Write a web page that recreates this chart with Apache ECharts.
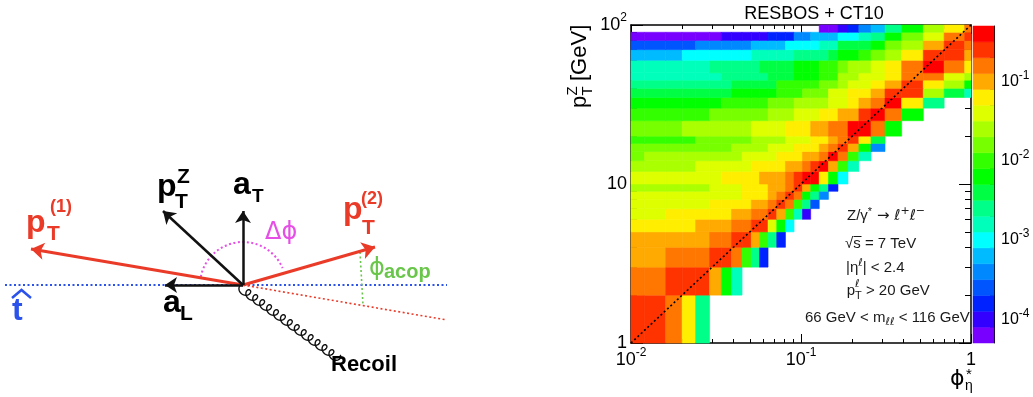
<!DOCTYPE html>
<html><head><meta charset="utf-8">
<script src="https://cdn.jsdelivr.net/npm/echarts@6/dist/echarts.min.js"></script>
<style>html,body{margin:0;padding:0;background:#fff}#c{width:1033px;height:397px}</style>
</head><body><div id="c"></div>
<script>
// ---------- heat-map data ----------
const phiStarEdges = [0.008,0.012,0.016,0.020,0.024,0.029,0.034,0.039,0.045,0.051,0.057,0.064,0.072,0.081,0.091,0.102,0.114,0.128,0.145,0.165,0.189,0.219,0.258,0.312,0.391,0.524,0.695,0.918,1.153];
const ptZEdges = [1,2,3,4,5,6,7,8,9,10,12,14,16,18,20,25,30,35,40,45,50,60,70,80,90,100];
// log10 of the normalised density, one list per pT(Z) bin (bottom to top), one entry per phi* bin
const densityExponent = [
 [-0.6,-0.6,-0.8,-1.2,-2.6],
 [-0.8,-0.8,-0.6,-0.6,-0.6,-1.0,-2.2,-2.8],
 [-1.0,-1.0,-0.8,-0.8,-0.8,-0.6,-0.6,-0.8,-2.0,-2.6,-3.8],
 [-1.0,-1.0,-1.0,-1.0,-1.0,-0.8,-0.8,-0.6,-0.6,-1.0,-2.0,-2.6,-3.8],
 [-1.2,-1.2,-1.2,-1.2,-1.0,-1.0,-1.0,-0.8,-0.8,-0.6,-0.6,-1.4,-2.2,-3.0],
 [-1.4,-1.4,-1.2,-1.2,-1.2,-1.2,-1.2,-1.0,-1.0,-0.8,-0.8,-0.6,-1.0,-2.0,-2.8,-4.0],
 [-1.4,-1.4,-1.4,-1.4,-1.4,-1.2,-1.2,-1.2,-1.2,-1.0,-1.0,-0.8,-0.6,-0.8,-2.0,-2.6,-3.6],
 [-1.4,-1.4,-1.4,-1.4,-1.4,-1.4,-1.4,-1.4,-1.2,-1.2,-1.2,-1.0,-0.8,-0.6,-0.8,-2.2,-2.6,-3.4],
 [-1.6,-1.6,-1.6,-1.6,-1.6,-1.4,-1.4,-1.4,-1.2,-1.2,-1.2,-1.0,-1.0,-0.8,-0.6,-1.0,-2.2,-2.6,-3.8],
 [-1.4,-1.4,-1.4,-1.4,-1.4,-1.4,-1.2,-1.2,-1.2,-1.2,-1.0,-1.0,-1.0,-0.8,-0.6,-0.4,-0.4,-1.2,-2.2,-3.0],
 [-1.6,-1.6,-1.6,-1.6,-1.4,-1.4,-1.4,-1.4,-1.4,-1.2,-1.2,-1.2,-1.2,-1.0,-1.0,-0.8,-0.6,-0.4,-1.0,-2.0,-2.8],
 [-1.8,-1.6,-1.6,-1.6,-1.6,-1.6,-1.6,-1.6,-1.4,-1.4,-1.4,-1.4,-1.2,-1.2,-1.2,-1.0,-1.0,-0.8,-0.4,-0.8,-2.0,-2.8],
 [-1.8,-1.8,-1.8,-1.8,-1.8,-1.8,-1.8,-1.6,-1.6,-1.6,-1.6,-1.4,-1.4,-1.4,-1.2,-1.2,-1.2,-1.0,-0.8,-0.6,-1.0,-2.2,-3.4],
 [-2.0,-2.0,-2.0,-2.0,-1.8,-1.8,-1.8,-1.8,-1.8,-1.6,-1.6,-1.6,-1.6,-1.4,-1.4,-1.4,-1.2,-1.2,-1.0,-0.8,-0.6,-1.2,-2.4],
 [-1.8,-1.8,-1.8,-1.6,-1.6,-1.6,-1.6,-1.6,-1.6,-1.4,-1.4,-1.4,-1.4,-1.2,-1.2,-1.2,-1.0,-1.0,-0.8,-0.8,-0.4,-0.4,-0.8,-2.2],
 [-2.0,-2.0,-2.0,-2.0,-2.0,-1.8,-1.8,-1.8,-1.8,-1.8,-1.8,-1.6,-1.6,-1.6,-1.4,-1.4,-1.4,-1.2,-1.2,-1.0,-1.0,-0.6,-0.4,-0.8,-2.2],
 [-2.2,-2.2,-2.2,-2.2,-2.2,-2.2,-2.0,-2.0,-2.0,-2.0,-2.0,-1.8,-1.8,-1.8,-1.6,-1.6,-1.6,-1.6,-1.4,-1.4,-1.2,-1.0,-0.8,-0.4,-1.2,-2.6],
 [-2.4,-2.4,-2.4,-2.4,-2.4,-2.4,-2.4,-2.2,-2.2,-2.2,-2.2,-2.2,-2.0,-2.0,-2.0,-1.8,-1.8,-1.8,-1.4,-1.4,-1.2,-1.2,-1.0,-0.6,-0.6,-1.6,-2.4,-2.8],
 [-2.6,-2.6,-2.6,-2.6,-2.6,-2.6,-2.6,-2.4,-2.4,-2.4,-2.4,-2.4,-2.0,-2.0,-2.0,-2.0,-2.0,-1.8,-1.8,-1.6,-1.4,-1.4,-1.2,-1.0,-0.6,-1.2,-1.6,-2.2],
 [-2.8,-2.8,-2.8,-2.8,-2.8,-2.8,-2.6,-2.6,-2.6,-2.6,-2.6,-2.4,-2.4,-2.4,-2.2,-2.2,-2.2,-2.0,-2.0,-1.6,-1.6,-1.4,-1.4,-1.2,-0.8,-0.8,-1.4,-1.6],
 [-2.8,-2.8,-2.8,-2.8,-2.8,-2.6,-2.6,-2.6,-2.6,-2.6,-2.4,-2.4,-2.4,-2.4,-2.2,-2.2,-2.2,-2.0,-2.0,-1.8,-1.6,-1.6,-1.4,-1.2,-0.8,-0.4,-0.8,-1.2],
 [-3.2,-3.2,-3.2,-3.0,-3.0,-3.0,-3.0,-3.0,-3.0,-2.8,-2.8,-2.8,-2.8,-2.8,-2.6,-2.6,-2.6,-2.6,-2.4,-2.2,-2.2,-2.0,-1.8,-1.6,-1.2,-0.6,-0.6,-1.0],
 [-3.6,-3.6,-3.6,-3.6,-3.4,-3.4,-3.4,-3.4,-3.4,-3.2,-3.2,-3.2,-3.2,-3.0,-3.0,-3.0,-3.0,-2.8,-2.8,-2.4,-2.4,-2.4,-2.2,-1.8,-1.6,-1.0,-0.6,-0.8],
 [-4.2,-4.2,-4.2,-4.2,-4.2,-4.2,-4.0,-4.0,-4.0,-4.0,-4.0,-3.8,-3.8,-3.8,-3.4,-3.4,-3.2,-3.2,-3.2,-3.0,-3.0,-2.8,-2.6,-2.2,-1.8,-1.4,-0.8,-0.6],
 [null,null,null,null,null,null,null,null,null,null,null,null,null,null,null,null,null,-4.2,-4.2,-4.0,-3.8,-3.4,-3.2,-2.6,-2.2,-1.6,-1.2,-0.8]
];
const diagonalLine = [[0.01, 1], [1, 100]];
const xMajorTicks = [0.01, 0.1, 1];
const xMinorTicks = [0.02,0.03,0.04,0.05,0.06,0.07,0.08,0.09,0.2,0.3,0.4,0.5,0.6,0.7,0.8,0.9];
const yMajorTicks = [1, 10, 100];
const yMinorTicks = [2,3,4,5,6,7,8,9,20,30,40,50,60,70,80,90];
const zMajorTicks = [1e-4, 1e-3, 1e-2, 1e-1];
const zMinorTicks = [6e-5,7e-5,8e-5,9e-5,2e-4,3e-4,4e-4,5e-4,6e-4,7e-4,8e-4,9e-4,2e-3,3e-3,4e-3,5e-3,6e-3,7e-3,8e-3,9e-3,2e-2,3e-2,4e-2,5e-2,6e-2,7e-2,8e-2,9e-2,0.2,0.3,0.4];
const zExponentRange = [-4.3, -0.3];
const zPalette = ['#7700ff','#3300ff','#0022ff','#0055ff','#0088ff','#00bbff','#00ffff','#00ffbb','#00ff88','#00ff44','#00ff00','#33ff00','#77ff00','#aaff00','#ddff00','#ffee00','#ffaa00','#ff7700','#ff3300','#ff0000'];

// ---------- kinematics sketch (origin = lepton-pair vertex, y up) ----------
const leptonArrows = { pT1: [-212, 36], pT2: [132, 38] };
const frameArrows = { pTZ: [-80, 74], aT: [0, 74], aL: [-78, 0] };
const tHatAxis = [[-238, 0], [204, 0]];
const pT1Extension = [[0, 0], [204, -35]];
const acopMarker = [[117, 33], [120, -20]];
const dPhiArc = [[0, 0, 43, 23, 169]];
const recoilLine = [[0, 0, 97, -70]];

// ---------- build ----------
const F = "'Liberation Sans', Arial, Helvetica, sans-serif";
const FD = "'DejaVu Sans', 'Liberation Sans', sans-serif";
const lg = Math.log10;
const RED = '#ea3a28', BLUE = '#2b52ea', MAG = '#e64fe6', GRN = '#69c64a';
const chart = echarts.init(document.getElementById('c'), null, {renderer: 'canvas', width: 1033, height: 397});

const cells = [];
densityExponent.forEach((row, r) => row.forEach((z, c) => {
  if (z !== null && z !== undefined) cells.push([phiStarEdges[c], phiStarEdges[c + 1], ptZEdges[r], ptZEdges[r + 1], z]);
}));
const nBand = zPalette.length;
const bandStep = (zExponentRange[1] - zExponentRange[0]) / nBand;
const bands = zPalette.map((c, i) => [zExponentRange[0] + i * bandStep, zExponentRange[0] + (i + 1) * bandStep, i]);
function zColor(z) {
  let k = Math.floor((z - zExponentRange[0]) / bandStep);
  k = Math.max(0, Math.min(nBand - 1, k));
  return zPalette[k];
}

const PLOT = {left: 631, top: 25, width: 340, height: 318};
const CBAR = {left: 973, top: 26, width: 21, height: 317};
const gridOf = (g) => Object.assign({containLabel: false, outerBoundsMode: 'none', show: false}, g);

const powFmt = (v) => { const e = Math.round(v); if (e === 0) return '{b|1}'; if (e === 1) return '{b|10}'; return '{b|10}{s|' + e + '}'; };
const mainRich = {b: {fontSize: 18, lineHeight: 26, fontFamily: F, color: '#000'}, s: {fontSize: 12, lineHeight: 12, verticalAlign: 'top', fontFamily: F, color: '#000'}};
const cbRich = {b: {fontSize: 16, lineHeight: 24, fontFamily: F, color: '#000'}, s: {fontSize: 12, lineHeight: 12, verticalAlign: 'top', fontFamily: F, color: '#000'}};

function deco(gridIndex, position, ext, ticks, len, line, label) {
  const a = {type: 'value', gridIndex, position, min: ext[0], max: ext[1],
    axisLine: {show: !!line, onZero: false, lineStyle: {color: '#000', width: line || 1}},
    axisTick: {show: true, inside: true, length: len, customValues: ticks.map(lg), lineStyle: {color: '#000', width: 1}},
    axisLabel: {show: false}, splitLine: {show: false}, axisPointer: {show: false}};
  if (label) a.axisLabel = Object.assign({show: true, customValues: ticks.map(lg), formatter: powFmt}, label);
  return a;
}
const hidden = (gridIndex, ext, type) => ({type: type || 'value', gridIndex, min: ext[0], max: ext[1], show: false, splitLine: {show: false}});

const xAxes = [
  hidden(0, [0.01, 1], 'log'),
  deco(1, 'bottom', [-2, 0], xMajorTicks, 9, 1.5, {margin: 4, rich: mainRich}),
  deco(1, 'top', [-2, 0], xMajorTicks, 9, 1.5),
  deco(2, 'bottom', [-2, 0], xMinorTicks, 4),
  deco(2, 'top', [-2, 0], xMinorTicks, 4),
  hidden(3, [0, 1]),
  hidden(4, [0, 1]),
  hidden(5, [-243, 217])
];
const yAxes = [
  hidden(0, [1, 100], 'log'),
  deco(1, 'left', [0, 2], yMajorTicks, 12, 1.5, {margin: 4, rich: mainRich}),
  deco(1, 'right', [0, 2], yMajorTicks, 12, 1.5),
  deco(2, 'left', [0, 2], yMinorTicks, 6),
  deco(2, 'right', [0, 2], yMinorTicks, 6),
  deco(3, 'right', zExponentRange, zMajorTicks, 8, 1, {margin: 7, rich: cbRich}),
  deco(4, 'right', zExponentRange, zMinorTicks, 4),
  hidden(5, [-112, 285])
];

function txt(x, y, text, size, color, bold, family, align) {
  return {type: 'text', x, y, z: 100, style: {text, fontSize: size, fontFamily: family || F, fontWeight: bold ? 'bold' : 'normal', fill: color,
    align: align || 'left', textAlign: align || 'left', verticalAlign: 'middle', textVerticalAlign: 'middle'}};
}
const INK = '#1a1a1a';
const boxRich = {
  n: {fontSize: 15, lineHeight: 20, fontFamily: F, fill: INK},
  l: {fontSize: 15, lineHeight: 20, fontFamily: FD, fill: INK},
  s: {fontSize: 11, lineHeight: 11, verticalAlign: 'top', fontFamily: F, fill: INK},
  sl: {fontSize: 11, lineHeight: 11, verticalAlign: 'top', fontFamily: FD, fill: INK},
  b: {fontSize: 11, lineHeight: 11, verticalAlign: 'bottom', fontFamily: F, fill: INK},
  bl: {fontSize: 11, lineHeight: 11, verticalAlign: 'bottom', fontFamily: FD, fill: INK}
};
const richTxt = (x, y, text) => ({type: 'text', x, y, z: 100, style: {text, rich: boxRich, fontSize: 15, fontFamily: F, fill: INK, align: 'left', verticalAlign: 'middle'}});

const graphics = [
  // heat-map title and axis titles
  txt(814, 14, 'RESBOS + CT10', 18, '#000', false, F, 'center'),
  txt(950, 379, 'ϕ', 22, '#000', false, FD),
  txt(966, 375, '*', 15, '#000'),
  txt(965, 386, 'η', 14, '#000'),
  {type: 'group', x: 580, y: 108, rotation: Math.PI / 2, children: [
    txt(0, 0, 'p', 22, '#000'),
    txt(12.5, 7.5, 'T', 15, '#000'),
    txt(12.5, -7.5, 'Z', 15, '#000'),
    txt(27, 0, '[GeV]', 22, '#000')
  ]},
  // annotation box
  richTxt(847, 216, '{n|Z/γ}{s|*}{l| → ℓ}{sl|+}{l|ℓ}{sl|−}'),
  richTxt(845, 243.7, '{n|√s = 7 TeV}'),
  {type: 'line', z: 100, shape: {x1: 853.5, y1: 236.5, x2: 861.5, y2: 236.5}, style: {stroke: INK, lineWidth: 1}},
  richTxt(846, 267.7, '{n||η}{sl|ℓ}{n|| < 2.4}'),
  richTxt(846.7, 291.2, '{n|p}{b|T}{n| > 20 GeV}'),
  txt(855, 284.5, 'ℓ', 11, INK, false, FD),
  richTxt(805, 317.7, '{n|66 GeV < m}{bl|ℓℓ}{n| < 116 GeV}'),
  // sketch labels
  txt(26, 223, 'p', 32, RED, true), txt(47, 234, 'T', 21, RED, true), txt(50, 207.5, '(1)', 18, RED, true),
  txt(157, 187.5, 'p', 32, '#000', true), txt(175, 202.6, 'T', 21, '#000', true), txt(177, 177.6, 'Z', 21, '#000', true),
  txt(233, 185.5, 'a', 32, '#000', true), txt(252, 196.6, 'T', 19, '#000', true),
  txt(163, 302.8, 'a', 32, '#000', true), txt(180, 314.3, 'L', 21, '#000', true),
  txt(343, 210, 'p', 32, RED, true), txt(361, 198.7, '(2)', 18, RED, true), txt(362, 228.6, 'T', 21, RED, true),
  txt(12, 311, 't', 32, BLUE, true),
  {type: 'polyline', z: 100, shape: {points: [[12, 298], [21.5, 290], [31, 298]]}, style: {stroke: BLUE, fill: 'none', lineWidth: 2.5}},
  txt(265, 233, 'Δϕ', 24, MAG, false, FD),
  txt(369, 269, 'ϕ', 24, GRN, false, FD), txt(384, 272, 'acop', 20, GRN, true),
  txt(331, 365, 'Recoil', 22, '#000', true)
];

const sketchAxes = {coordinateSystem: 'cartesian2d', xAxisIndex: 7, yAxisIndex: 7, silent: true};
const option = {
  animation: false,
  backgroundColor: '#fff',
  textStyle: {fontFamily: F},
  grid: [gridOf(PLOT), gridOf(PLOT), gridOf(PLOT), gridOf(CBAR), gridOf(CBAR), gridOf({left: 0, top: 0, width: 460, height: 397})],
  xAxis: xAxes,
  yAxis: yAxes,
  graphic: graphics,
  series: [
    {type: 'custom', xAxisIndex: 0, yAxisIndex: 0, silent: true, z: 2,
      encode: {x: [0, 1], y: [2, 3]},
      data: cells,
      renderItem: (params, api) => {
        const x0 = Math.max(api.value(0), 0.01), x1 = Math.min(api.value(1), 1);
        const p0 = api.coord([x0, api.value(2)]), p1 = api.coord([x1, api.value(3)]);
        const col = zColor(api.value(4));
        return {type: 'rect', shape: {x: p0[0], y: p1[1], width: p1[0] - p0[0], height: p0[1] - p1[1]}, style: {fill: col, stroke: col, lineWidth: 0.6}};
      }},
    {type: 'line', xAxisIndex: 0, yAxisIndex: 0, data: diagonalLine, symbol: 'none', silent: true, z: 5,
      lineStyle: {color: '#000', width: 1.6, type: [2, 2.5]}},
    {type: 'custom', xAxisIndex: 5, yAxisIndex: 5, silent: true, data: bands, encode: {y: [0, 1]},
      renderItem: (params, api) => {
        const p0 = api.coord([0, api.value(0)]), p1 = api.coord([1, api.value(1)]);
        const col = zPalette[api.value(2)];
        return {type: 'rect', shape: {x: p0[0], y: p1[1], width: p1[0] - p0[0], height: p0[1] - p1[1]}, style: {fill: col, stroke: col, lineWidth: 0.5}};
      }},
    Object.assign({type: 'lines', symbol: ['none', 'arrow'], symbolSize: 13, z: 4,
      lineStyle: {color: RED, width: 3, opacity: 1},
      data: Object.values(leptonArrows).map(e => ({coords: [[0, 0], e]}))}, sketchAxes),
    Object.assign({type: 'lines', symbol: ['none', 'arrow'], symbolSize: 12, z: 4,
      lineStyle: {color: '#111', width: 2.5, opacity: 1},
      data: Object.values(frameArrows).map(e => ({coords: [[0, 0], e]}))}, sketchAxes),
    Object.assign({type: 'lines', symbol: 'none', z: 3, data: [
      {coords: tHatAxis, lineStyle: {color: BLUE, width: 2, type: [2, 2.5], opacity: 1}},
      {coords: pT1Extension, lineStyle: {color: RED, width: 1.6, type: [2, 2.5], opacity: 1}},
      {coords: acopMarker, lineStyle: {color: GRN, width: 1.6, type: [2, 2.5], opacity: 1}}
    ]}, sketchAxes),
    Object.assign({type: 'custom', data: dPhiArc, z: 3,
      renderItem: (params, api) => {
        const c = api.coord([api.value(0), api.value(1)]);
        const r = api.size([api.value(2), 0])[0];
        return {type: 'arc', shape: {cx: c[0], cy: c[1], r, startAngle: -api.value(4) * Math.PI / 180, endAngle: -api.value(3) * Math.PI / 180, clockwise: true},
          style: {stroke: MAG, fill: null, lineWidth: 2, lineDash: [2, 2.5]}};
      }}, sketchAxes),
    Object.assign({type: 'custom', data: recoilLine, z: 3,
      renderItem: (params, api) => {
        const p0 = api.coord([api.value(0), api.value(1)]), p1 = api.coord([api.value(2), api.value(3)]);
        const dx = p1[0] - p0[0], dy = p1[1] - p0[1], L = Math.hypot(dx, dy);
        const u = [dx / L, dy / L], n = [-u[1], u[0]];
        const loops = 14, b = 4, a = L / (2 * Math.PI * loops), pts = [];
        for (let i = 0; i <= loops * 24; i++) {
          const t = i / 24 * 2 * Math.PI;
          const s = a * t - b * Math.sin(t), w = b * (1 - Math.cos(t));
          pts.push([p0[0] + u[0] * s + n[0] * w, p0[1] + u[1] * s + n[1] * w]);
        }
        return {type: 'polyline', shape: {points: pts}, style: {stroke: '#111', fill: null, lineWidth: 1.4}};
      }}, sketchAxes)
  ]
};
chart.setOption(option);
</script>
</body></html>
